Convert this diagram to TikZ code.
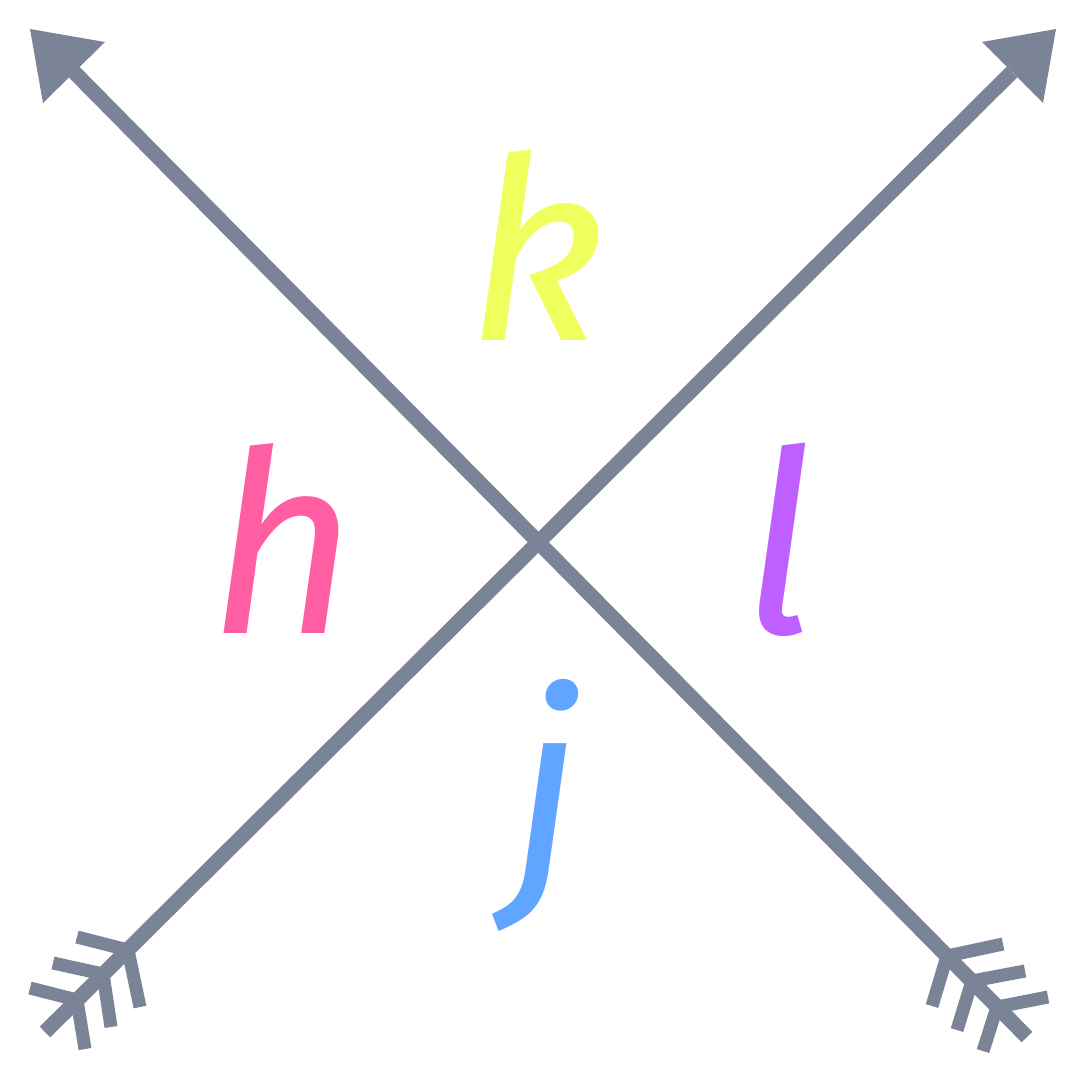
\documentclass[tikz,border=0pt]{standalone}
\usepackage{fontspec}
\setmainfont{Fira Sans}
\usetikzlibrary{calc}
\definecolor{shaftgray}{HTML}{7B8497}
\definecolor{kyellow}{HTML}{EFFF5E}
\definecolor{hpink}{HTML}{FF5FA2}
\definecolor{lpurple}{HTML}{BF5FFF}
\definecolor{jblue}{HTML}{60A5FF}
\begin{document}
\begin{tikzpicture}[x=1pt,y=-1pt,
  shaft/.style={draw=shaftgray,line width=15pt,line cap=butt},
  vane/.style={draw=shaftgray,line width=13pt,line cap=butt},
  headtri/.style={fill=shaftgray,draw=none},
  letter/.style={inner sep=0pt,anchor=base,font=\fontsize{254}{254}\selectfont\itshape}]
\useasboundingbox[fill=white] (0,0) rectangle (1080,1080);
% arrow A: bottom-right to top-left
\coordinate (Atip) at (30,29);
\coordinate (Ac1) at (105,42);
\coordinate (Ac2) at (43,103);
\coordinate (Abase) at (74,72);
\coordinate (Aend) at (1027,1037);
% arrow B: bottom-left to top-right
\coordinate (Btip) at (1056,29);
\coordinate (Bc1) at (982,42);
\coordinate (Bc2) at (1043,103);
\coordinate (Bbase) at (1012,72);
\coordinate (Bend) at (45,1032);
\draw[shaft] (Abase) -- (Aend);
\draw[shaft] (Bbase) -- (Bend);
\fill[headtri] (Atip) -- (Ac1) -- (Ac2) -- cycle;
\fill[headtri] (Btip) -- (Bc1) -- (Bc2) -- cycle;
% fletching A
\coordinate (AJ1) at (947,956);
\coordinate (AJ2) at (972,981);
\coordinate (AJ3) at (997,1007);
\coordinate (AT1) at (1003,944);
\coordinate (AT2) at (1025,971);
\coordinate (AT3) at (1048,997);
\coordinate (AB1) at (932,1006);
\coordinate (AB2) at (957,1030);
\coordinate (AB3) at (983,1051);
\foreach \i in {1,2,3}{
  \draw[vane] (AT\i) -- (AJ\i);
  \draw[vane] (AB\i) -- (AJ\i);
}
% fletching B
\coordinate (BJ1) at (128,950);
\coordinate (BJ2) at (103,974);
\coordinate (BJ3) at (77,1000);
\coordinate (BT1) at (77,937);
\coordinate (BT2) at (53,963);
\coordinate (BT3) at (30,988);
\coordinate (BB1) at (140,1007);
\coordinate (BB2) at (111,1027);
\coordinate (BB3) at (85,1049);
\foreach \i in {1,2,3}{
  \draw[vane] (BT\i) -- (BJ\i);
  \draw[vane] (BB\i) -- (BJ\i);
}
% letters
\node[letter,text=kyellow] (k) at (537,340) {k};
\node[letter,text=hpink] (h) at (283,633) {h};
\node[letter,text=lpurple] (l) at (779,633) {l};
\node[letter,text=jblue] (j) at (546,877) {j};
\end{tikzpicture}
\end{document}
